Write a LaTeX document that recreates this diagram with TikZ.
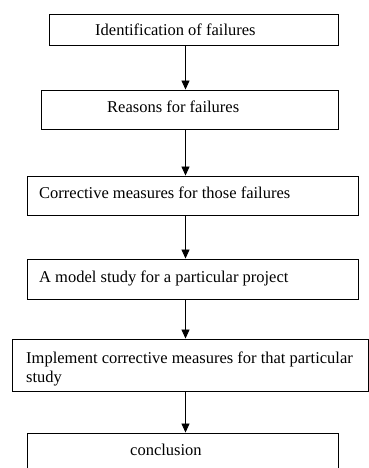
\documentclass[tikz,border=0pt]{standalone}
\usepackage{fontspec}
\setmainfont{Liberation Serif}
\usetikzlibrary{arrows.meta}
\tikzset{
  flowbox/.style={draw=black,line width=0.9pt,inner sep=0pt},
  flowtext/.style={anchor=base west,inner sep=0pt,align=left,font=\fontsize{16.5}{19}\selectfont},
  flowarrow/.style={-{Triangle[width=8pt,length=9pt]},line width=0.8pt}
}

\begin{document}
\begin{tikzpicture}[x=1pt,y=-1pt]
  \useasboundingbox (0,0) rectangle (369,468);
  \node[flowbox,minimum width=289pt,minimum height=31pt] (b1) at (193.5,29.5) {};
  \node[flowbox,minimum width=297pt,minimum height=39pt] (b2) at (189.5,109.5) {};
  \node[flowbox,minimum width=331pt,minimum height=39pt] (b3) at (192.5,195.5) {};
  \node[flowbox,minimum width=331pt,minimum height=40pt] (b4) at (192.5,279) {};
  \node[flowbox,minimum width=356pt,minimum height=52pt] (b5) at (190,365) {};
  \node[flowbox,minimum width=311pt,minimum height=40pt] (b6) at (182.5,453) {};
  \node[flowtext] (t1) at (95,36) {Identification of failures};
  \node[flowtext] (t2) at (107,113) {Reasons for failures};
  \node[flowtext] (t3) at (39,198) {Corrective measures for those failures};
  \node[flowtext] (t4) at (39,282) {A model study for a particular project};
  \node[flowtext] (t5) at (26,382) {Implement corrective measures for that particular\\study};
  \node[flowtext] (t6) at (130,455) {conclusion};
  \coordinate (ax) at (185.5,0);
  \foreach\a/\b in{b1/b2,b2/b3,b3/b4,b4/b5,b5/b6}{\draw[flowarrow] (\a.south -| ax) -- (\b.north -| ax);}
\end{tikzpicture}
\end{document}
